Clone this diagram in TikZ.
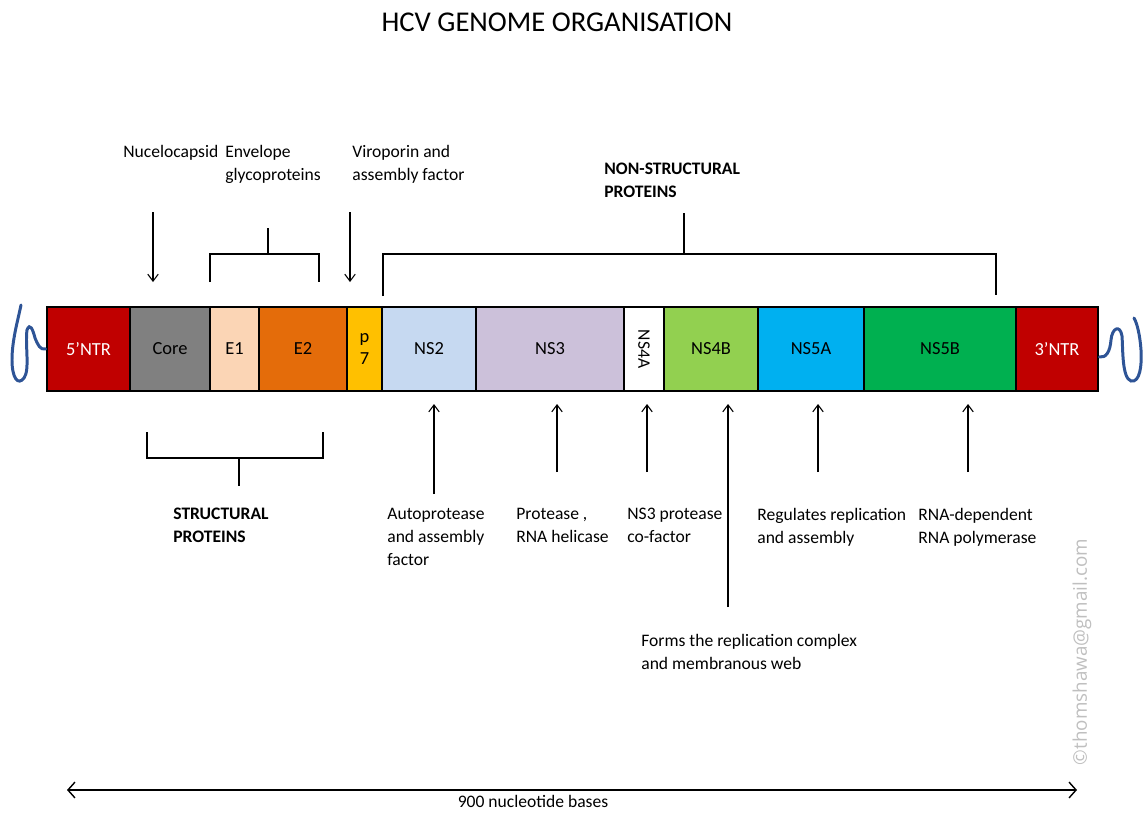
\documentclass[tikz,border=0pt]{standalone}
\usepackage{fontspec}
\setmainfont{Carlito}
\newfontfamily\markfont{Open Sans}
\usetikzlibrary{arrows.meta}

\definecolor{ntrred}{RGB}{192,0,0}
\definecolor{coregray}{RGB}{128,128,128}
\definecolor{eonepeach}{RGB}{251,213,181}
\definecolor{etwoorange}{RGB}{228,108,10}
\definecolor{pgold}{RGB}{255,192,0}
\definecolor{nstwoblue}{RGB}{198,217,241}
\definecolor{nsthreelilac}{RGB}{204,193,218}
\definecolor{nsfourgreen}{RGB}{146,208,80}
\definecolor{nsfivecyan}{RGB}{0,176,240}
\definecolor{nsfivegreen}{RGB}{0,176,80}
\definecolor{tailblue}{RGB}{46,84,150}

\begin{document}
\begin{tikzpicture}[x=0.02cm, y=-0.02cm,
  segment/.style = {draw, line width=1.6pt, minimum height=1.68cm, inner sep=0pt, font=\fontsize{10.5}{12}\selectfont},
  note/.style = {anchor=north west, align=left, inner sep=0pt, font=\fontsize{10}{13}\selectfont},
  group/.style = {note, font=\fontsize{10}{13}\selectfont\bfseries},
  pointer/.style = {-{Straight Barb[length=4pt,width=6pt]}, line width=0.6pt},
  bracket/.style = {line width=0.6pt},
  tail/.style = {line width=1.7pt, draw=tailblue, line cap=round},
]

\useasboundingbox (0,0) rectangle (1143,812);

\node[font=\fontsize{16.3}{20}\selectfont] (title) at (557,22) {HCV GENOME ORGANISATION};

% genome bar
\node[segment, fill=ntrred, text=white, minimum width=1.66cm] (ntr5) at (88.5,349) {5’NTR};
\node[segment, fill=coregray, minimum width=1.60cm] (core) at (170,349) {Core};
\node[segment, fill=eonepeach, minimum width=0.98cm] (e1) at (234.5,349) {E1};
\node[segment, fill=etwoorange, minimum width=1.76cm] (e2) at (303,349) {E2};
\node[segment, fill=pgold, minimum width=0.70cm, align=center] (p7) at (364.5,349) {p\\7};
\node[segment, fill=nstwoblue, minimum width=1.88cm] (ns2) at (429,349) {NS2};
\node[segment, fill=nsthreelilac, minimum width=2.96cm] (ns3) at (550,349) {NS3};
\node[segment, fill=white, minimum width=0.80cm] (ns4a) at (644,349) {};
\node[rotate=-90, font=\fontsize{10}{12}\selectfont] (ns4atext) at (ns4a.center) {NS4A};
\node[segment, fill=nsfourgreen, minimum width=1.88cm] (ns4b) at (711,349) {NS4B};
\node[segment, fill=nsfivecyan, minimum width=2.12cm] (ns5a) at (811,349) {NS5A};
\node[segment, fill=nsfivegreen, minimum width=3.04cm] (ns5b) at (940,349) {NS5B};
\node[segment, fill=ntrred, text=white, minimum width=1.64cm] (ntr3) at (1057,349) {3’NTR};

% untranslated ends
\draw[tail] (ntr5.west) .. controls (40,350) and (38,345) .. (35,338)
  .. controls (33,330) and (30,322) .. (27,330) .. controls (25,345) and (30,370) .. (24,378)
  .. controls (18,386) and (12,378) .. (12,360) .. controls (12,340) and (18,320) .. (21,305);
\draw[tail] (ntr3.east |- 0,357) .. controls (1106,358) and (1110,352) .. (1111,340)
  .. controls (1112,328) and (1120,324) .. (1122,336) .. controls (1123,350) and (1122,378) .. (1131,381)
  .. controls (1140,383) and (1142,365) .. (1141,350) .. controls (1140,335) and (1137,323) .. (1134,318);

% labels above
\node[note] (capsid) at (123,145) {Nucelocapsid};
\node[note] (envelope) at (225,145) {Envelope\\glycoproteins};
\node[note] (viroporin) at (352,145) {Viroporin and\\assembly factor};
\node[group] (nonstruct) at (604,163) {NON-STRUCTURAL\\PROTEINS};

\coordinate (capsidA) at (153,212);
\coordinate (capsidB) at (153,282);
\coordinate (viroA) at (350,212);
\coordinate (viroB) at (350,282);
\draw[pointer] (capsidA) -- (capsidB);
\draw[pointer] (viroA) -- (viroB);

\coordinate (envStem) at (268,228);
\coordinate (envMid) at (268,254);
\coordinate (envL) at (210,282);
\coordinate (envR) at (319,282);
\draw[bracket] (envL) |- (envMid) -| (envR);
\draw[bracket] (envMid) -- (envStem);

\coordinate (nsStem) at (684,213);
\coordinate (nsMid) at (684,254);
\coordinate (nsL) at (383,296);
\coordinate (nsR) at (996,295);
\draw[bracket] (nsL) |- (nsMid) -| (nsR);
\draw[bracket] (nsMid) -- (nsStem);

% labels below
\coordinate (stL) at (147,432);
\coordinate (stR) at (323,432);
\coordinate (stMid) at (239,458);
\coordinate (stStem) at (239,486);
\draw[bracket] (stL) |- (stMid) -| (stR);
\draw[bracket] (stMid) -- (stStem);
\node[group] (struct) at (173,508) {STRUCTURAL\\PROTEINS};

\node[note] (auto) at (387,508) {Autoprotease\\and assembly\\factor};
\node[note] (helicase) at (516,508) {Protease ,\\RNA helicase};
\node[note] (cofactor) at (627,508) {NS3 protease\\co-factor};
\node[note] (regulates) at (757,508) {Regulates replication\\and assembly};
\node[note] (polymerase) at (918,508) {RNA-dependent\\RNA polymerase};
\node[note] (web) at (641,634) {Forms the replication complex\\and membranous web};

\coordinate (autoA) at (434,494);   \coordinate (autoB) at (434,404);
\coordinate (heliA) at (557,472);   \coordinate (heliB) at (557,404);
\coordinate (cofA) at (647,472);    \coordinate (cofB) at (647,404);
\coordinate (webA) at (728,607);    \coordinate (webB) at (728,404);
\coordinate (regA) at (818,472);    \coordinate (regB) at (818,404);
\coordinate (polA) at (968,472);    \coordinate (polB) at (968,404);
\draw[pointer] (autoA) -- (autoB);
\draw[pointer] (heliA) -- (heliB);
\draw[pointer] (cofA) -- (cofB);
\draw[pointer] (webA) -- (webB);
\draw[pointer] (regA) -- (regB);
\draw[pointer] (polA) -- (polB);

% length scale
\coordinate (lenL) at (67,790);
\coordinate (lenR) at (1077,790);
\draw[{Straight Barb[length=4pt,width=9pt]}-{Straight Barb[length=4pt,width=9pt]}, line width=0.8pt] (lenL) -- (lenR);
\node[font=\fontsize{10}{12}\selectfont] (length) at (533,801) {900 nucleotide bases};

\node[rotate=90, text=black!25, font=\markfont\fontsize{10.7}{12}\selectfont] (mark) at (1082,652) {©thomshawa@gmail.com};

\end{tikzpicture}
\end{document}
